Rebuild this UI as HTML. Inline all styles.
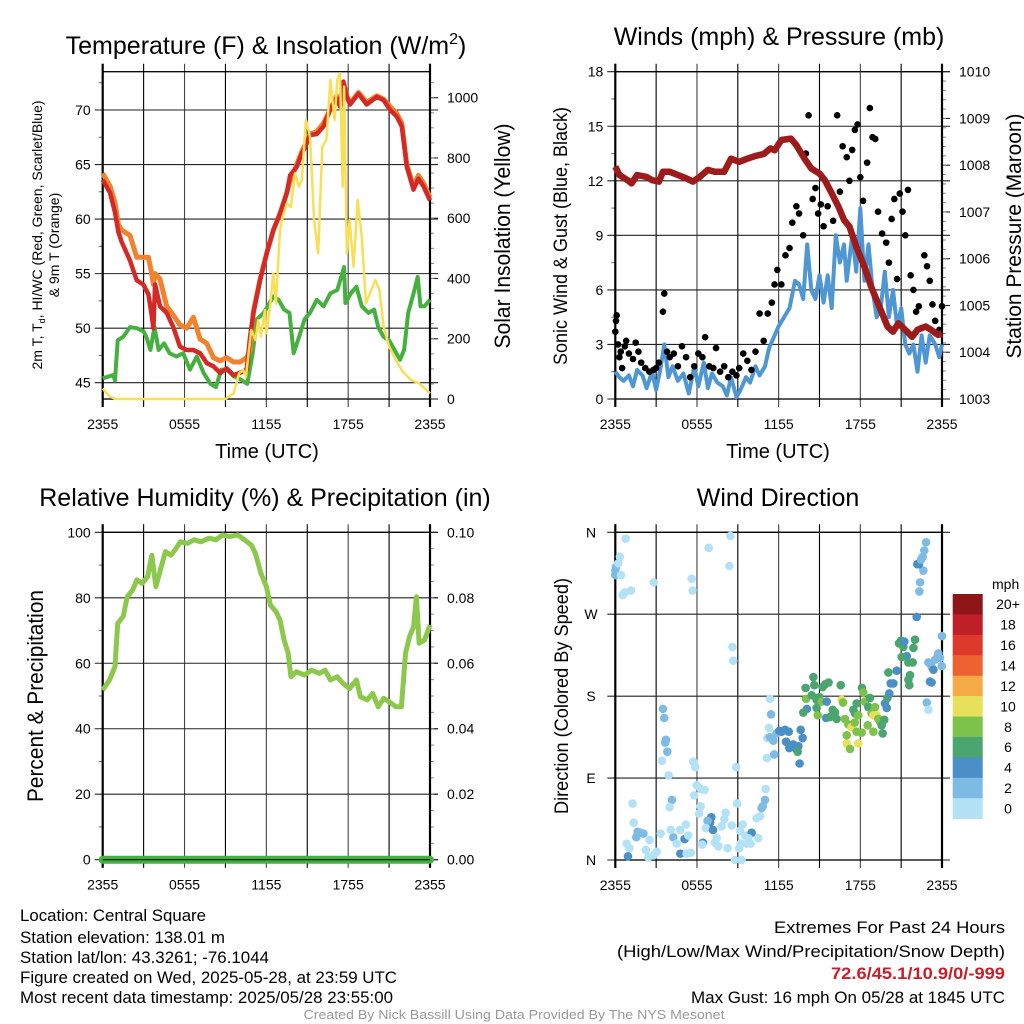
<!DOCTYPE html>
<html><head><meta charset="utf-8"><style>
html,body{margin:0;padding:0;background:#fff;}
svg{display:block;font-family:"Liberation Sans",Arial,sans-serif;}
</style></head><body>
<svg id="root" width="1024" height="1024" viewBox="0 0 1024 1024" xmlns="http://www.w3.org/2000/svg">
<g fill="#000">
<text x="266" y="54" font-size="25" text-anchor="middle">Temperature (F) &amp; Insolation (W/m<tspan font-size="16" dy="-10">2</tspan><tspan dy="10">)</tspan></text>
<text x="779" y="45" font-size="25" text-anchor="middle">Winds (mph) &amp; Pressure (mb)</text>
<text x="265" y="506" font-size="25" text-anchor="middle">Relative Humidity (%) &amp; Precipitation (in)</text>
<text x="778" y="506" font-size="25" text-anchor="middle">Wind Direction</text>
<text x="267" y="458" font-size="20" text-anchor="middle">Time (UTC)</text>
<text x="778" y="458" font-size="20" text-anchor="middle">Time (UTC)</text>
<text transform="translate(42,235) rotate(-90)" font-size="14" text-anchor="middle">2m T, T<tspan font-size="9" dy="3">d</tspan><tspan dy="-3">, HI/WC (Red, Green, Scarlet/Blue)</tspan></text>
<text transform="translate(59,245) rotate(-90)" font-size="14" text-anchor="middle">&amp; 9m T (Orange)</text>
<text transform="translate(510,236) rotate(-90)" font-size="22" text-anchor="middle" textLength="225" lengthAdjust="spacingAndGlyphs">Solar Insolation (Yellow)</text>
<text transform="translate(567,236) rotate(-90)" font-size="19" text-anchor="middle" textLength="258" lengthAdjust="spacingAndGlyphs">Sonic Wind &amp; Gust (Blue, Black)</text>
<text transform="translate(1021,236) rotate(-90)" font-size="21" text-anchor="middle" textLength="245" lengthAdjust="spacingAndGlyphs">Station Pressure (Maroon)</text>
<text transform="translate(43,696) rotate(-90)" font-size="22" text-anchor="middle" textLength="212" lengthAdjust="spacingAndGlyphs">Percent &amp; Precipitation</text>
<text transform="translate(568,696) rotate(-90)" font-size="19" text-anchor="middle" textLength="236" lengthAdjust="spacingAndGlyphs">Direction (Colored By Speed)</text>
</g>
<g font-size="16.5" fill="#000">
<text x="20" y="921" textLength="186" lengthAdjust="spacingAndGlyphs">Location: Central Square</text>
<text x="20" y="943" textLength="205" lengthAdjust="spacingAndGlyphs">Station elevation: 138.01 m</text>
<text x="20" y="963" textLength="249" lengthAdjust="spacingAndGlyphs">Station lat/lon: 43.3261; -76.1044</text>
<text x="20" y="983" textLength="377" lengthAdjust="spacingAndGlyphs">Figure created on Wed, 2025-05-28, at 23:59 UTC</text>
<text x="20" y="1003" textLength="373" lengthAdjust="spacingAndGlyphs">Most recent data timestamp: 2025/05/28 23:55:00</text>
<text x="1005" y="933" text-anchor="end" textLength="231" lengthAdjust="spacingAndGlyphs">Extremes For Past 24 Hours</text>
<text x="1005" y="957" text-anchor="end" textLength="388" lengthAdjust="spacingAndGlyphs">(High/Low/Max Wind/Precipitation/Snow Depth)</text>
<text x="1005" y="979" text-anchor="end" font-weight="bold" fill="#c8202a" textLength="174" lengthAdjust="spacingAndGlyphs">72.6/45.1/10.9/0/-999</text>
<text x="1005" y="1003" text-anchor="end" textLength="314" lengthAdjust="spacingAndGlyphs">Max Gust: 16 mph On 05/28 at 1845 UTC</text>
<text x="514" y="1019" text-anchor="middle" font-size="13" fill="#999" textLength="421" lengthAdjust="spacingAndGlyphs">Created By Nick Bassill Using Data Provided By The NYS Mesonet</text>
</g>
</svg>
<script>
// ---- data ----
const X_TICK_HOURS = [0, 6, 12, 18, 24];
const X_TICK_LABELS = ['2355', '0555', '1155', '1755', '2355'];
const TEMP_HOURS = [0,0.54,0.9,1.15,1.39,2.0,2.49,2.98,3.35,3.59,3.72,3.84,4.2,4.69,5.18,5.67,6.16,6.65,7.14,7.63,8.12,8.61,9.1,9.59,10.07,10.56,10.81,11.05,11.54,12.03,12.52,13.0,13.5,13.74,14.23,14.6,14.84,15.2,15.7,16.19,16.67,17.16,17.41,17.65,17.9,18.14,18.75,19.36,20.1,20.6,21.08,21.56,21.93,22.3,22.79,23.15,23.52,24];
const TEMP_2M = [63.6,62.4,60.6,58.8,57.9,56.2,54.4,54,53.1,51.2,50,54,52,51.4,50.1,48.3,48,48,47.7,46.8,46.5,45.9,46.3,45.7,45.9,46.2,49.2,51.4,54.4,56.9,59,60.5,62.4,64,64.8,66,66.6,67.7,67.8,68.5,70,71.1,70.3,72.6,71.2,70.5,71.5,70.5,71.2,70.9,70,69.4,68.5,64.8,62.7,63.7,63,61.7];
const TEMP_9M = [64.2,63,61.5,59.5,59,58.5,56.5,56.5,56.5,55,54,55,54.5,52,51.2,50.3,50,51,49,48.6,47.3,47,47.3,46.9,46.9,47.3,48,51.5,54.5,56.9,59,60.5,62.4,63.5,65,66.2,66.8,67.8,68,68.8,70,71.3,70.5,72.5,71.3,70.6,71.6,70.7,71.3,71,70.3,69.7,68.8,65,63,64,63.3,62];
const DEW_HOURS = [0,0.78,0.9,1.1,1.5,2.0,2.5,3.0,3.2,3.5,3.8,4.1,4.5,4.9,5.4,5.9,6.4,6.9,7.4,7.9,8.3,8.7,9.1,9.6,10.1,10.6,11.0,11.3,11.8,12.1,12.5,12.9,13.3,13.7,14.0,14.4,14.8,15.2,15.7,16.2,16.7,17.2,17.7,17.8,18.2,18.6,19.0,19.5,19.9,20.2,20.6,21.0,21.4,21.8,22.1,22.4,22.8,23.1,23.3,23.6,24];
const DEWPOINT = [45.4,45.7,45.2,48.9,49.2,50.1,50,49.7,49.2,48,50.1,48,48.6,47.7,47.4,47.7,46.2,47.4,45.9,44.9,44.6,46.2,46.2,45.6,45.3,44.9,47.7,50.8,51.4,52,52.9,52.6,51.7,51.4,47.7,49.2,50.8,51.4,52.6,52,53.2,53.5,55.6,52.3,53.2,53.8,52,51.4,51.7,50.1,49.2,48.9,48,47.1,48,51.4,53.2,54.7,52,52,52.6];
const SOLAR_HOURS = [0,0.5,1,9,9.6,10,10.3,10.5,10.9,11.2,11.4,11.6,11.9,12.0,12.3,12.5,12.7,13,13.2,13.5,13.8,14.1,14.4,14.6,14.9,15.2,15.5,15.8,16.1,16.4,16.7,17.0,17.2,17.4,17.6,17.7,17.9,18.1,18.4,18.7,19.0,19.3,19.6,20.0,20.3,20.6,21.0,21.5,22.0,22.6,23.2,24];
const SOLAR = [35,8,0,0,19,85,96,74,229,196,262,207,295,218,317,417,317,561,605,649,638,749,705,727,926,871,594,483,837,860,1059,926,1059,1081,705,1037,483,594,439,660,539,317,351,395,361,240,174,129,91,63,52,19];
const WIND_HOURS = [0,0.3,0.6,1.0,1.3,1.6,2.0,2.3,2.7,3.0,3.3,3.6,3.9,4.2,4.6,5.0,5.4,5.8,6.1,6.5,6.8,7.1,7.5,7.9,8.2,8.5,8.9,9.2,9.6,9.9,10.3,10.6,11.0,11.3,11.7,12.0,12.4,12.8,13.2,13.5,13.8,14.1,14.4,14.7,15.0,15.3,15.6,15.9,16.2,16.5,16.8,17.0,17.4,17.7,18.0,18.3,18.6,18.9,19.2,19.5,19.8,20.1,20.4,20.7,21.0,21.3,21.6,21.9,22.2,22.5,22.8,23.1,23.5,23.8,24];
const WIND = [1.5,1.2,1.0,1.3,0.7,1.6,1.3,0.6,1.5,0.5,1.6,3.0,1.2,1.8,1.0,1.4,0.3,1.8,0.7,2.0,0.6,1.4,0.9,0.7,0.2,1.2,0.1,0.5,1.2,0.9,1.8,1.3,1.8,2.8,3.5,4.0,4.5,5.0,6.5,6.3,5.5,8.5,6.0,5.5,6.8,5.3,6.8,5.0,9.0,7.5,8.5,6.5,9.0,7.0,10.5,6.5,8.5,6.0,4.5,5.0,7.0,4.5,6.0,4.0,5.0,3.0,2.5,3.0,1.5,3.5,2.0,3.5,3.0,2.3,3.0];
const GUST_HOURS = [0,0.05,0.1,0.2,0.3,0.4,0.5,0.7,0.8,1.0,1.3,1.5,1.7,1.9,2.2,2.5,2.8,3.0,3.2,3.5,3.6,3.8,4.0,4.3,4.6,4.9,5.2,5.5,5.8,6.1,6.4,6.6,6.9,7.2,7.4,7.7,8.0,8.3,8.6,8.9,9.1,9.4,9.7,10.0,10.3,10.6,10.9,11.2,11.5,11.7,11.9,12.2,12.5,12.8,13.0,13.3,13.5,13.8,14.0,14.2,14.5,14.7,14.9,15.1,15.3,15.6,16.0,16.3,16.5,16.7,17.0,17.2,17.4,17.6,17.8,18.0,18.2,18.5,18.7,18.9,19.1,19.3,19.6,19.9,20.1,20.3,20.5,20.7,20.9,21.1,21.3,21.5,21.7,21.9,22.1,22.3,22.5,22.7,22.9,23.1,23.3,23.5,23.8,24];
const GUST = [3.7,4.3,4.6,3.0,2.3,2.6,1.7,2.9,3.2,2.5,2.2,3.1,2.6,2.0,1.7,1.5,1.6,1.7,2.0,4.8,5.8,2.6,2.3,2.5,1.8,2.9,2.3,1.2,1.8,2.5,2.3,3.4,1.8,1.7,2.8,1.5,1.8,1.2,1.5,1.3,1.7,2.5,2.1,1.6,2.6,4.7,3.2,4.7,5.3,6.3,7.1,6.3,7.9,8.3,9.7,10.6,10.2,9.0,13.5,15.6,11.0,11.6,10.2,10.7,9.5,10.6,9.8,15.6,11.4,13.9,13.3,12.0,13.7,14.8,15.1,12.2,10.9,13.0,16.0,14.4,14.3,10.3,9.1,8.6,7.5,9.9,11.0,6.6,11.3,10.3,9.0,11.5,6.8,6.0,4.8,5.1,3.9,7.9,7.3,6.5,5.2,4.3,3.8,5.1];
const PRES_HOURS = [0,0.3,0.9,1.2,1.6,2.3,2.7,3.2,3.5,4.0,4.6,5.2,5.7,6.2,6.8,7.3,8.0,8.5,9.1,9.7,10.3,10.9,11.4,11.7,12.2,12.9,13.3,13.9,14.4,15.0,15.4,15.9,16.4,16.8,17.2,17.7,18.3,18.8,19.4,20.0,20.4,20.8,21.3,21.8,22.2,22.8,23.2,23.7,24];
const PRESSURE = [1007.97,1007.79,1007.68,1007.61,1007.79,1007.75,1007.68,1007.65,1007.86,1007.86,1007.79,1007.72,1007.65,1007.75,1007.9,1007.86,1007.86,1008.14,1008.07,1008.14,1008.2,1008.24,1008.36,1008.32,1008.54,1008.57,1008.43,1008.14,1007.93,1007.82,1007.68,1007.4,1007.11,1006.83,1006.69,1006.26,1005.83,1005.4,1004.97,1004.55,1004.44,1004.62,1004.48,1004.33,1004.48,1004.55,1004.48,1004.37,1004.4];
const RH_HOURS = [0,0.5,0.9,1.1,1.5,1.8,2.2,2.5,2.9,3.3,3.6,3.9,4.3,4.6,5.0,5.3,5.7,6.2,6.7,7.2,7.8,8.3,8.8,9.3,9.9,10.4,10.9,11.2,11.6,12.0,12.3,12.7,13.0,13.3,13.6,13.8,14.2,14.8,15.3,15.9,16.3,16.7,17.2,17.6,18.1,18.6,18.9,19.4,19.8,20.2,20.6,21.0,21.5,21.9,22.2,22.5,22.8,23.0,23.2,23.6,24];
const RH = [51.8,54.9,59,72.2,74.3,80.3,82.4,85.5,84.4,86.5,93,83.4,89.5,94.1,93,94.6,97.1,96.6,97.7,97.1,98.2,97.7,99.2,98.7,99.2,97.7,96.1,93.6,87.5,83.4,77.8,75.8,73.2,67.1,63,55.9,57.4,56.4,57.9,56.9,57.9,54.9,55.9,53.9,52.3,54.9,49.8,48.8,50.8,46.7,49.3,48.3,46.7,46.7,63,68.1,71.2,80.3,66.1,67.1,71.7];
const PRECIP_HOURS = [0, 24];
const PRECIP = [0, 0];
const DIR_HOURS = [0,0.05,0,0.22,0.34,0.42,0.76,0.54,0.71,1.15,2.82,5.61,5.68,6.86,8.45,8.38,8.6,8.67,3.5,3.6,3.72,3.67,3.82,3.43,3.92,5.73,5.88,8.87,1.27,1.35,1.64,1.81,2.06,1.54,0.83,1.03,0.93,2.25,2.52,2.79,3.33,3.04,2.42,4.16,3.99,4.26,4.07,4.51,4.75,5.09,5.19,5.36,4.78,5.24,5.54,5.98,6.29,6.56,5.8,6.27,6.15,7.05,6.96,6.78,6.66,7.18,6.44,6.39,7.45,7.32,7.57,7.81,8.11,8.01,8.55,8.25,8.94,9.36,9.16,9.53,10.02,9.77,9.65,9.94,10.5,9.11,9.21,8.79,9.28,10.38,10.63,10.75,10.83,11.0,11.05,11.36,11.44,11.29,11.17,11.36,11.61,11.14,11.68,11.85,12.05,12.22,12.47,12.74,12.54,12.78,12.96,13.08,13.32,13.45,13.4,13.62,13.76,13.54,13.98,14.08,13.81,14.01,14.55,14.62,14.43,14.79,14.99,15.23,15.41,15.67,15.16,15.53,15.48,14.79,14.87,15.97,16.07,15.77,16.26,16.14,16.56,16.63,16.73,16.87,17.12,17.36,17.59,17.73,17.49,17.61,17.85,18.12,18.22,18.34,18.54,18.71,18.59,18.83,18.96,19.08,19.2,19.32,19.45,19.57,19.64,19.76,18.96,17.0,17.85,17.24,17.0,17.73,18.1,19.81,19.94,19.99,20.13,20.23,20.43,20.06,20.67,20.84,20.99,21.16,21.23,21.41,21.04,21.53,21.85,21.65,21.53,21.6,22.02,21.9,22.14,22.34,22.39,22.63,22.19,22.31,22.46,22.58,22.7,22.83,22.88,23.0,23.0,23.24,23.37,23.12,23.24,23.49,23.66,23.73,23.85,23.98,24.0];
const DIR_DEG = [318,322,313,326,333,313,353,291,294,296,305,309,296,343,356,323,234,219,166,156,132,129,119,109,93,108,102,102,62,41,31,30,29,25,18,13,4,11,22,5,29,9,3,66,58,25,33,18,33,23,39,27,7,7,8,82,78,77,71,59,51,47,41,43,35,33,19,17,24,19,15,37,52,45,38,13,62,39,32,27,30,24,18,18,24,13,18,0,0,46,48,57,59,66,78,177,160,145,134,135,131,112,116,139,142,141,143,141,130,123,126,127,121,125,119,143,134,106,189,166,162,177,201,192,181,176,179,190,193,195,174,174,156,167,159,165,161,157,155,162,192,176,173,155,149,146,151,172,165,161,159,189,184,174,148,178,168,161,159,168,159,155,152,148,139,154,141,128,128,122,137,141,140,172,167,178,183,194,194,206,208,238,241,234,240,224,223,217,217,203,198,192,242,233,267,295,305,318,325,325,330,333,340,349,173,165,217,212,209,196,195,220,223,227,222,213,246];
const DIR_SPEED = [3,3,3,1,1,1,1,1,1,1,1,1,1,1,1,1,1,1,3,3,3,3,3,1,1,1,1,1,1,1,3,3,3,3,1,1,5,1,1,1,1,1,1,3,1,3,1,1,1,5,1,1,5,1,1,1,1,1,1,1,1,5,5,3,1,5,5,1,1,1,1,1,1,1,1,1,1,1,1,1,5,1,1,1,1,1,1,1,1,1,1,3,3,3,1,1,3,1,1,3,3,1,3,3,5,5,5,5,5,5,5,5,5,5,7,5,5,5,7,5,7,9,7,7,7,7,7,7,7,7,9,5,5,7,9,7,7,7,7,7,7,11,9,9,9,11,9,7,7,7,9,7,9,9,9,7,7,9,11,9,11,9,9,7,7,7,9,11,11,9,9,9,9,5,5,7,5,5,5,7,5,7,7,7,5,5,7,7,7,7,7,7,7,7,5,3,3,3,5,5,3,3,3,3,3,1,3,3,5,5,5,3,3,3,3,3,3];
const SPEED_BINS = [0,2,4,6,8,10,12,14,16,18,20];
const SPEED_LABELS = ['0','2','4','6','8','10','12','14','16','18','20+'];
const SPEED_COLORS = ['#b3e2f6','#7dbbe4','#4a8fc6','#4aa56e','#7dc24a','#e6e05a','#f5aa45','#ee6130','#dd3a2c','#bf1f26','#8e1518'];

// ---- helpers ----
const NS = 'http://www.w3.org/2000/svg';
const root = document.getElementById('root');
function mk(tag, attrs, parent) {
  const el = document.createElementNS(NS, tag);
  for (const k in attrs) el.setAttribute(k, attrs[k]);
  (parent || root).appendChild(el);
  return el;
}
function linScale(d0, d1, r0, r1) { return v => r0 + (v - d0) * (r1 - r0) / (d1 - d0); }
function pathFrom(xs, ys, fx, fy) {
  return xs.map((h, i) => (i ? 'L' : 'M') + fx(h).toFixed(1) + ',' + fy(ys[i]).toFixed(1)).join('');
}

function frame(g, x0, x1, y0, y1, leftTicks, leftFy, leftLabels, leftMinor, rightTicks, rightFy, rightLabels, rightMinor, fx) {
  for (let h = 0; h <= 24; h += 3) {
    const x = fx(h);
    const ln = mk('line', {x1: x, x2: x, y1: y0 - 8, y2: y1 + 8, stroke: (h % 6 === 3) ? '#000' : '#444', 'stroke-width': 1.1}, g);
    
    
  }
  leftTicks.forEach((v, i) => {
    const y = leftFy(v);
    const ln = mk('line', {x1: x0 - 8, x2: x1 + 8, y1: y, y2: y, stroke: '#222', 'stroke-width': 1.1}, g);
    
    
    const t = mk('text', {x: x0 - 12, y: y + 5, 'font-size': 14, 'text-anchor': 'end'}, g);
    t.textContent = leftLabels[i];
    
    
  });
  leftMinor.forEach(v => {
    const y = leftFy(v);
    const ln = mk('line', {x1: x0 - 4, x2: x0, y1: y, y2: y, stroke: '#666', 'stroke-width': 1}, g);
    
    
  });
  rightTicks.forEach((v, i) => {
    const y = rightFy(v);
    const ln = mk('line', {x1: x1, x2: x1 + 8, y1: y, y2: y, stroke: '#222', 'stroke-width': 1.1}, g);
    
    
    const t = mk('text', {x: x1 + 17, y: y + 5, 'font-size': 14}, g);
    t.textContent = rightLabels[i];
    
    
  });
  rightMinor.forEach(v => {
    const y = rightFy(v);
    const ln = mk('line', {x1: x1, x2: x1 + 4, y1: y, y2: y, stroke: '#888', 'stroke-width': 1}, g);
    
    
  });
  X_TICK_HOURS.forEach((h, i) => {
    const t = mk('text', {x: fx(h), y: y1 + 30, 'font-size': 14, 'text-anchor': 'middle'}, g);
    t.textContent = X_TICK_LABELS[i];
    
    
  });
  const box = mk('rect', {x: x0, y: y0, width: x1 - x0, height: y1 - y0, fill: 'none', stroke: '#000', 'stroke-width': 1.3}, g);
  
  
  const la = mk('line', {x1: x0, x2: x0, y1: y0 - 8, y2: y1 + 8, stroke: '#000', 'stroke-width': 2.2}, g);
  
  
  const ra = mk('line', {x1: x1, x2: x1, y1: y0 - 8, y2: y1 + 8, stroke: '#000', 'stroke-width': 2.2}, g);
  
  
}
function range(a, b, s) { const r = []; for (let v = a; v <= b + 1e-9; v += s) r.push(+v.toFixed(4)); return r; }

// ---- panel 1: temperature ----
(function () {
  const g = mk('g', {});
  
  
  const x0 = 102.7, x1 = 430, y0 = 71.7, y1 = 399;
  const fx = linScale(0, 24, x0, x1);
  const fT = linScale(45, 70, 382.7, 110);
  const fS = linScale(0, 1000, y1, 97.7);
  const tt = [45, 50, 55, 60, 65, 70];
  frame(g, x0, x1, y0, y1, tt, fT, tt.map(String), range(47.5, 72.5, 5), range(0, 1000, 200), fS, range(0, 1000, 200).map(String), range(50, 1050, 50), fx);
  const dew = mk('path', {d: pathFrom(DEW_HOURS, DEWPOINT, fx, fT), fill: 'none', stroke: '#45b03f', 'stroke-width': 4, 'stroke-linejoin': 'round'}, g);
  
  
  const t9 = mk('path', {d: pathFrom(TEMP_HOURS, TEMP_9M, fx, fT), fill: 'none', stroke: '#f2832e', 'stroke-width': 5, 'stroke-linejoin': 'round'}, g);
  
  
  const t2 = mk('path', {d: pathFrom(TEMP_HOURS, TEMP_2M, fx, fT), fill: 'none', stroke: '#d42a27', 'stroke-width': 4.5, 'stroke-linejoin': 'round'}, g);
  
  
  const so = mk('path', {d: pathFrom(SOLAR_HOURS, SOLAR, fx, fS), fill: 'none', stroke: '#f8df55', 'stroke-width': 2.5, 'stroke-linejoin': 'round'}, g);
  
  
})();

// ---- panel 2: winds ----
(function () {
  const g = mk('g', {});
  
  
  const x0 = 615.3, x1 = 942, y0 = 71.7, y1 = 399;
  const fx = linScale(0, 24, x0, x1);
  const fW = linScale(0, 18, y1, y0);
  const fP = linScale(1003, 1010, y1, y0);
  const wt = range(0, 18, 3);
  frame(g, x0, x1, y0, y1, wt, fW, wt.map(String), range(1.5, 16.5, 3), range(1003, 1010, 1), fP, range(1003, 1010, 1).map(String), range(1003.2, 1009.8, 0.2), fx);
  const wl = mk('path', {d: pathFrom(WIND_HOURS, WIND, fx, fW), fill: 'none', stroke: '#4f97d2', 'stroke-width': 4, 'stroke-linejoin': 'round'}, g);
  
  
  GUST_HOURS.forEach((h, i) => {
    const c = mk('circle', {cx: fx(h), cy: fW(GUST[i]), r: 3.3, fill: '#000'}, g);
    
    
  });
  const pl = mk('path', {d: pathFrom(PRES_HOURS, PRESSURE, fx, fP), fill: 'none', stroke: '#9e1b1c', 'stroke-width': 6.5, 'stroke-linejoin': 'round'}, g);
  
  
})();

// ---- panel 3: humidity ----
(function () {
  const g = mk('g', {});
  
  
  const x0 = 102.7, x1 = 430, y0 = 532.3, y1 = 859.7;
  const fx = linScale(0, 24, x0, x1);
  const fR = linScale(0, 100, y1, y0);
  const fPr = linScale(0, 0.1, y1, y0);
  const rt = range(0, 100, 20);
  frame(g, x0, x1, y0, y1, rt, fR, rt.map(String), range(10, 90, 20), range(0, 0.1, 0.02), fPr, ['0.00','0.02','0.04','0.06','0.08','0.10'], range(0.005, 0.095, 0.005), fx);
  const rl = mk('path', {d: pathFrom(RH_HOURS, RH, fx, fR), fill: 'none', stroke: '#8cc84b', 'stroke-width': 5, 'stroke-linejoin': 'round'}, g);
  
  
  const pr = mk('path', {d: pathFrom(PRECIP_HOURS, PRECIP, fx, fPr), fill: 'none', stroke: '#45b03f', 'stroke-width': 8, 'stroke-linecap': 'round'}, g);
  
  
  const base = mk('line', {x1: x0, x2: x1, y1: y1, y2: y1, stroke: '#000', 'stroke-width': 1}, g);
  
  
})();

// ---- panel 4: direction ----
(function () {
  const g = mk('g', {});
  
  
  const x0 = 615.3, x1 = 942, y0 = 532.3, y1 = 860;
  const fx = linScale(0, 24, x0, x1);
  const fD = linScale(0, 360, y1, y0);
  const dt = [0, 90, 180, 270, 360];
  frame(g, x0, x1, y0, y1, dt, fD, ['N', 'E', 'S', 'W', 'N'], [], [], fD, [], [], fx);
  g.querySelectorAll('text').forEach(t => { if (t.getAttribute('text-anchor') === 'end') { t.setAttribute('text-anchor', 'middle'); t.setAttribute('x', 591); } });
  DIR_HOURS.forEach((h, i) => {
    let b = 0;
    for (let k = 0; k < SPEED_BINS.length; k++) if (DIR_SPEED[i] >= SPEED_BINS[k]) b = k;
    const c = mk('circle', {cx: fx(h), cy: fD(DIR_DEG[i]), r: 4.3, fill: SPEED_COLORS[b]}, g);
    
    
  });
  const cb = mk('g', {}, g);
  
  
  const t0 = mk('text', {x: 992, y: 589, 'font-size': 14}, cb);
  t0.textContent = 'mph';
  
  
  const n = SPEED_COLORS.length, top = 594, bh = 224.7 / n;
  SPEED_COLORS.forEach((col, k) => {
    const idx = n - 1 - k;
    const y = top + k * bh;
    const r = mk('rect', {x: 952.7, y: y, width: 30, height: bh + 0.3, fill: SPEED_COLORS[idx]}, cb);
    
    
    const t = mk('text', {x: 1008, y: y + bh / 2 + 5, 'font-size': 14, 'text-anchor': 'middle'}, cb);
    t.textContent = SPEED_LABELS[idx];
    
    
  });
})();
</script>
</body></html>
